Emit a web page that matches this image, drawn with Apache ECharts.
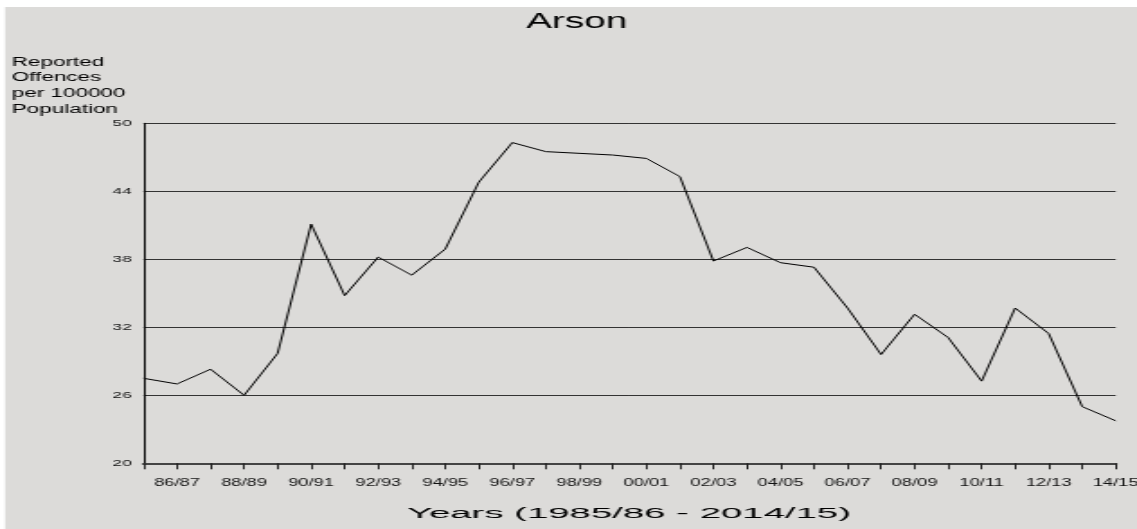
<!DOCTYPE html>
<html>
<head>
<meta charset="utf-8">
<script src="https://cdn.jsdelivr.net/npm/echarts@6/dist/echarts.min.js"></script>
<style>
  html, body { margin: 0; padding: 0; background: #ffffff; overflow: hidden; }
  /* the reference is stretched sideways, so draw narrow and stretch */
  #main { width: 632px; height: 529px; transform: scaleX(1.799); transform-origin: 0 0; }
</style>
</head>
<body>
<div id="main"></div>
<script>
var years = ['85/86', '86/87', '87/88', '88/89', '89/90', '90/91', '91/92', '92/93', '93/94', '94/95',
             '95/96', '96/97', '97/98', '98/99', '99/00', '00/01', '01/02', '02/03', '03/04', '04/05',
             '05/06', '06/07', '07/08', '08/09', '09/10', '10/11', '11/12', '12/13', '13/14', '14/15'];
var arsonRate = [27.5, 27.0, 28.3, 26.0, 29.7, 41.1, 34.8, 38.2, 36.6, 38.9,
                 44.8, 48.3, 47.5, 47.35, 47.2, 46.9, 45.3, 37.85, 39.05, 37.7,
                 37.3, 33.7, 29.6, 33.15, 31.1, 27.25, 33.7, 31.45, 25.0, 23.75];
var yMin = 20, yMax = 50, yStep = 6;
var chartTitle = 'Arson';
var yName = 'Reported\nOffences\nper 100000\nPopulation';
var xName = 'Years (1985/86 - 2014/15)';

var font = 'Liberation Sans, Arial, sans-serif';
var myChart = echarts.init(document.getElementById('main'));

var option = {
    animation: false,
    backgroundColor: '#dcdbd9',
    grid: { left: 79.77, right: 11.82, top: 123.3, bottom: 65.7, outerBoundsMode: 'none', containLabel: false },
    xAxis: {
        type: 'category',
        data: years,
        boundaryGap: false,
        axisLine: { lineStyle: { color: '#444', width: 2 } },
        axisTick: { interval: 0, length: 6, lineStyle: { color: '#222', width: 1 } },
        axisLabel: {
            interval: function (i) { return i % 2 === 1; },
            fontFamily: font, fontSize: 10.2, color: '#111', margin: 14.5
        },
        splitLine: { show: false }
    },
    yAxis: {
        type: 'value',
        min: yMin, max: yMax, interval: yStep,
        axisLine: { show: true, lineStyle: { color: '#000', width: 1 } },
        axisTick: { show: false },
        axisLabel: { fontFamily: font, fontSize: 9.5, color: '#111', margin: 6.6 },
        splitLine: { lineStyle: { color: '#333', width: 1 } }
    },
    graphic: [
        // white margin strips of the original picture
        { type: 'rect', silent: true, shape: { x: 0, y: 0, width: 632, height: 7 }, style: { fill: '#fff' } },
        { type: 'rect', silent: true, shape: { x: 0, y: 0, width: 2.78, height: 529 }, style: { fill: '#fff' } },
        {
            type: 'text', x: 320.6, y: 21.7,
            style: { text: chartTitle, font: '21.5px ' + font, fill: '#000',
                     align: 'center', verticalAlign: 'middle', textAlign: 'center', textVerticalAlign: 'middle' }
        },
        {
            type: 'text', x: 6.5, y: 54.5,
            style: { text: yName, font: '12.5px ' + font, fill: '#000', lineHeight: 15.6,
                     align: 'left', verticalAlign: 'top', textAlign: 'left', textVerticalAlign: 'top' }
        },
        {
            type: 'text', x: 349.6, y: 513.8, scaleX: 1.385,
            style: { text: xName, font: '15.4px ' + font, fill: '#000',
                     align: 'center', verticalAlign: 'middle', textAlign: 'center', textVerticalAlign: 'middle' }
        }
    ],
    series: [{
        type: 'line',
        data: arsonRate,
        symbol: 'none',
        lineStyle: { color: '#000', width: 1 }
    }]
};

myChart.setOption(option);
</script>
</body>
</html>
